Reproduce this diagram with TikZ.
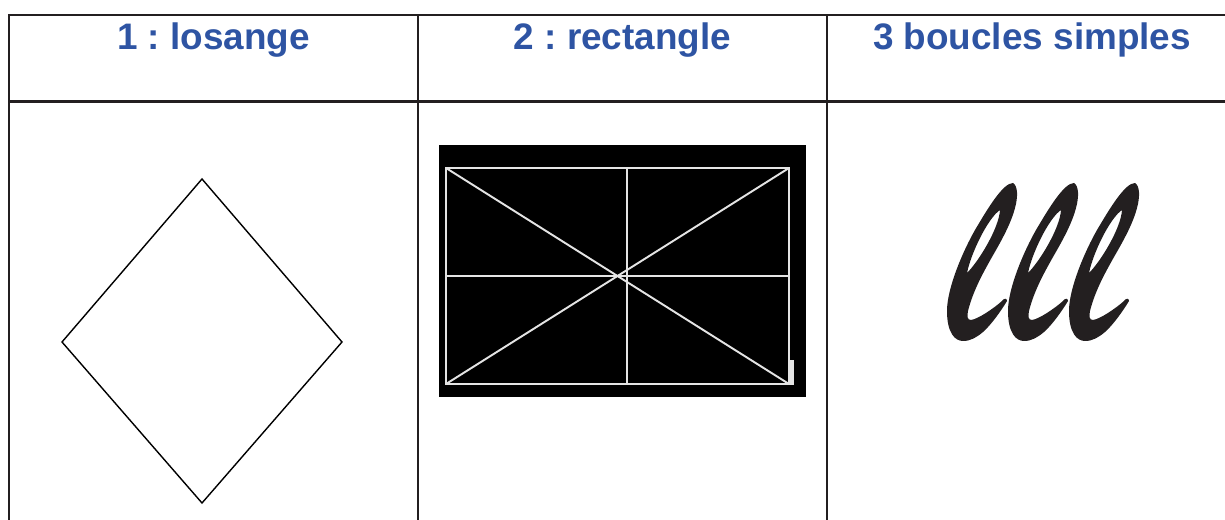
\documentclass[tikz,border=0pt]{standalone}
\usepackage{fontspec}
\setmainfont{Liberation Sans}
\usepackage{tikz}
\usetikzlibrary{positioning}
\definecolor{headblue}{RGB}{46,84,163}
\definecolor{inkdark}{RGB}{35,31,32}
\definecolor{chalk}{RGB}{228,228,228}
\frenchspacing

\begin{document}
\begin{tikzpicture}[
    x=0.02cm, y=-0.02cm,
    headtext/.style={anchor=base, inner sep=0pt, text=headblue, font=\fontsize{21}{25}\selectfont\bfseries},
    tableline/.style={draw=inkdark, line width=1.15pt},
    chalkline/.style={draw=chalk, line width=1.1pt},
    shapeline/.style={draw=black, line width=0.8pt, line join=miter},
    letterfill/.style={fill=inkdark, even odd rule}
]
    \useasboundingbox (0,0) rectangle (1225,520);

    % table
    \draw[tableline] (9,520) -- (9,15) -- (1225,15);
    \draw[tableline] (9,101.5) -- (1225,101.5);
    \draw[tableline] (418,15) -- (418,520);
    \draw[tableline] (827,15) -- (827,520);

    % headers
    \node[headtext] (losange) at (213.5,50) {1 : losange};
    \node[headtext] (rectangle) at (622.5,50) {2 : rectangle};
    \node[headtext] (boucles) at (1032,50) {3 boucles simples};

    % diamond
    \coordinate (dn) at (202,179);
    \coordinate (dw) at (62,342);
    \coordinate (ds) at (202,503);
    \coordinate (de) at (342,342);
    \draw[shapeline] (dn) -- (dw) -- (ds) -- (de) -- cycle;

    % rectangle on black
    \fill[black] (439,145) rectangle (806,397);
    \coordinate (nw) at (446,168);
    \coordinate (ne) at (789,168);
    \coordinate (sw) at (446,384);
    \coordinate (se) at (789,384);
    \draw[chalkline] (nw) rectangle (se);
    \draw[chalkline] (nw) -- (se);
    \draw[chalkline] (sw) -- (ne);
    \draw[chalkline] (446,276) -- (789,276);
    \draw[chalkline] (627,168) -- (627,384);
    \fill[chalk] (789,360) rectangle (794,385);

    % loops
    \foreach \tx in {1013,1074,1135}
        \path[letterfill, shift={(\tx,183)}]
            (0,0) .. controls (-10,0) and (-25,25) .. (-38,47)
            .. controls (-50,68) and (-66,105) .. (-66,128)
            .. controls (-66,150) and (-58,158) .. (-50,158)
            .. controls (-42,158) and (-36,154) .. (-30,149)
            .. controls (-22,142) and (-12,128) .. (-6,118)
            .. controls (-6,115) and (-9,115) .. (-11,118)
            .. controls (-20,126) and (-35,136) .. (-42,137)
            .. controls (-46,137) and (-46,133) .. (-45,128)
            .. controls (-40,108) and (-30,90) .. (-21,74)
            .. controls (-10,55) and (-2,40) .. (2,25)
            .. controls (5,14) and (5,3) .. (0,0) -- cycle
            (-13,27) .. controls (-25,35) and (-42,70) .. (-46,90)
            .. controls (-34,78) and (-14,45) .. (-13,27) -- cycle;
\end{tikzpicture}
\end{document}
